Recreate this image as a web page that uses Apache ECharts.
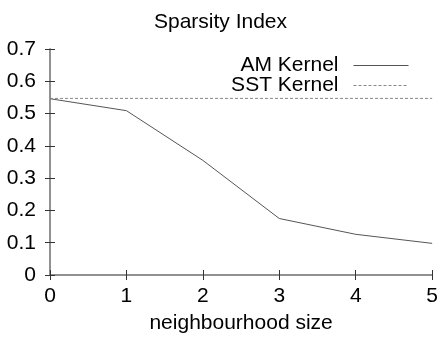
<!DOCTYPE html>
<html><head><meta charset="utf-8">
<script src="https://cdn.jsdelivr.net/npm/echarts@6/dist/echarts.min.js"></script>
<style>html,body{margin:0;padding:0;background:#fff}#c{width:441px;height:341px}</style>
</head><body><div id="c"></div>
<script>
var titleText = 'Sparsity Index';
var xName = 'neighbourhood size';
var neighbourhood = [0, 1, 2, 3, 4, 5];
var amKernel = [0.546, 0.509, 0.355, 0.175, 0.126, 0.098];
var sstX = [0, 5];
var sstKernel = [0.547, 0.547];
var seriesNames = ['AM Kernel', 'SST Kernel'];

var F = 'Liberation Sans, Arial, sans-serif';
var chart = echarts.init(document.getElementById('c'), null, {renderer: 'canvas'});
function pairs(xs, ys){ return xs.map(function(x,i){ return [x, ys[i]]; }); }
var axisLine = {show: true, lineStyle: {color: '#8a8a8a', width: 1.5}};
var tick = {show: true, inside: true, length: 5, lineStyle: {color: '#333', width: 1}};
function legendFor(name, top){
  return {data: [name], orient: 'vertical', right: 27, top: top, align: 'right', itemWidth: 55, itemHeight: 10,
    itemStyle: {color: 'transparent', borderWidth: 0, opacity: 0},
    lineStyle: {width: 1},
    textStyle: {fontFamily: F, fontSize: 21, color: '#000', padding: [0, 10, 0, 0]}, selectedMode: false};
}
chart.setOption({
  animation: false,
  title: {text: titleText, left: 'center', top: 7, textStyle: {fontFamily: F, fontSize: 21, fontWeight: 'normal', color: '#000'}},
  grid: {left: 50, right: 7, top: 49, bottom: 66},
  legend: [legendFor(seriesNames[0], 50), legendFor(seriesNames[1], 70)],
  xAxis: [
    {type: 'value', min: 0, max: 5, interval: 1, position: 'bottom', name: xName, nameLocation: 'middle', nameGap: 38,
     nameTextStyle: {fontFamily: F, fontSize: 21, color: '#000'},
     axisLine: axisLine, axisTick: tick, splitLine: {show: false},
     axisLabel: {fontFamily: F, fontSize: 21, color: '#000', margin: 11}},
    {type: 'value', min: 0, max: 5, interval: 1, position: 'top',
     axisLine: axisLine, axisTick: tick, splitLine: {show: false}, axisLabel: {show: false}}
  ],
  yAxis: [
    {type: 'value', min: 0, max: 0.7, interval: 0.1, position: 'left',
     axisLine: axisLine, axisTick: tick, splitLine: {show: false},
     axisLabel: {fontFamily: F, fontSize: 21, color: '#000', margin: 14,
       formatter: function(v){ return v === 0 ? '0' : v.toFixed(1); }}},
    {type: 'value', min: 0, max: 0.7, interval: 0.1, position: 'right',
     axisLine: axisLine, axisTick: tick, splitLine: {show: false}, axisLabel: {show: false}}
  ],
  series: [
    {name: seriesNames[0], type: 'line', data: pairs(neighbourhood, amKernel), symbol: 'none',
     lineStyle: {color: '#555', width: 1}, itemStyle: {color: '#555'}},
    {name: seriesNames[1], type: 'line', data: pairs(sstX, sstKernel), symbol: 'none',
     lineStyle: {color: '#888', width: 1, type: [3, 2]}, itemStyle: {color: '#888'}}
  ]
});
</script></body></html>
